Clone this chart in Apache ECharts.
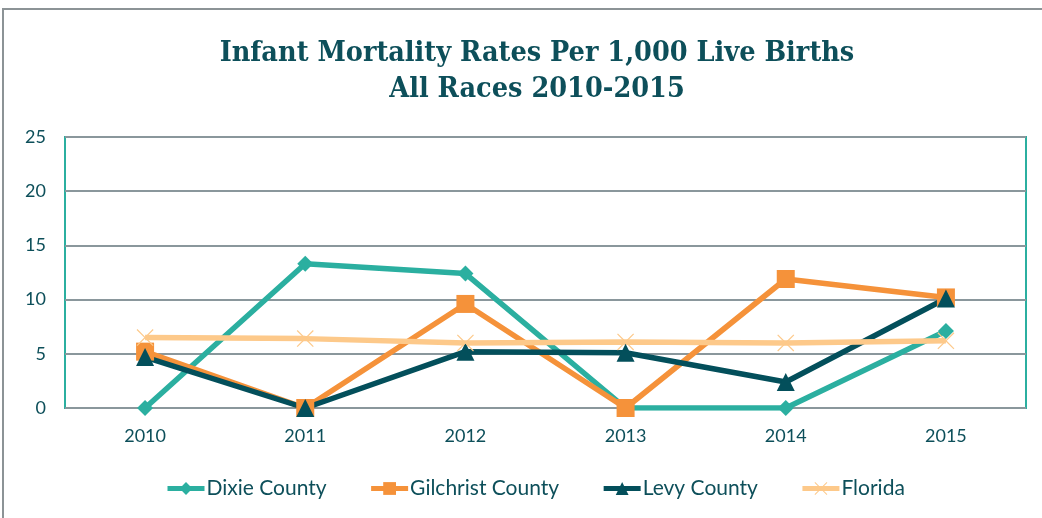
<!DOCTYPE html>
<html>
<head>
<meta charset="utf-8">
<script src="https://cdn.jsdelivr.net/npm/echarts@6/dist/echarts.min.js"></script>
<style>
  html, body { margin: 0; padding: 0; background: #fff; }
  #chart { width: 1042px; height: 518px; }
</style>
</head>
<body>
<div id="chart"></div>
<script>
const years = ['2010', '2011', '2012', '2013', '2014', '2015']
const dixie = [0, 13.3, 12.4, 0, 0, 7.1]
const gilchrist = [5.2, 0, 9.6, 0, 11.9, 10.2]
const levy = [4.7, 0, 5.2, 5.1, 2.4, 10.1]
const florida = [6.5, 6.4, 6.0, 6.1, 6.0, 6.2]

const textColor = '#0d4f5a'
const labelFont = 'Lato'
const crossPath = 'path://M1,0L10,9L19,0L20,1L11,10L20,19L19,20L10,11L1,20L0,19L9,10L0,1Z'

function lineSeries(name, data, color, symbol, size) {
  return {
    name: name,
    type: 'line',
    data: data,
    symbol: symbol,
    symbolSize: size,
    lineStyle: { color: color, width: 5.5 },
    itemStyle: { color: color },
    emphasis: { disabled: true }
  }
}

const chart = echarts.init(document.getElementById('chart'))
chart.setOption({
  animation: false,
  color: ['#2bafa0', '#f5923a', '#034f5b', '#fdc98a'],
  title: {
    text: 'Infant Mortality Rates Per 1,000 Live Births\nAll Races 2010-2015',
    left: 532,
    textAlign: 'center',
    top: 31,
    textStyle: {
      fontFamily: 'DejaVu Serif Condensed',
      fontWeight: 'bold',
      fontSize: 28.5,
      lineHeight: 36,
      color: textColor
    }
  },
  graphic: [{
    type: 'rect',
    shape: { x: 3, y: 9, width: 1200, height: 700 },
    style: { fill: 'none', stroke: '#8c9396', lineWidth: 2 },
    silent: true
  }],
  grid: {
    left: 65, right: 16, top: 137, bottom: 110,
    show: true,
    borderColor: '#2bafa0',
    borderWidth: 2
  },
  legend: {
    top: 473,
    left: 160,
    itemWidth: 37,
    itemHeight: 16,
    itemGap: 42,
    lineStyle: { width: 5 },
    textStyle: { color: textColor, fontSize: 21, fontFamily: labelFont, padding: [0, 0, 0, -3] },
    data: ['Dixie County', 'Gilchrist County', 'Levy County', 'Florida']
  },
  xAxis: {
    type: 'category',
    data: years,
    boundaryGap: true,
    axisLine: { show: false },
    axisTick: { show: false },
    axisLabel: { color: textColor, fontSize: 18, margin: 19, fontFamily: labelFont }
  },
  yAxis: {
    type: 'value',
    min: 0,
    max: 25,
    interval: 5,
    axisLine: { show: false },
    axisTick: { show: false },
    splitLine: { lineStyle: { color: '#8a979c', width: 2 } },
    axisLabel: { color: textColor, fontSize: 18, margin: 19, fontFamily: labelFont }
  },
  series: [
    lineSeries('Dixie County', dixie, '#2bafa0', 'diamond', 16),
    lineSeries('Gilchrist County', gilchrist, '#f5923a', 'rect', 18),
    lineSeries('Levy County', levy, '#034f5b', 'triangle', 18),
    lineSeries('Florida', florida, '#fdc98a', crossPath, 17)
  ]
})
</script>
</body>
</html>
